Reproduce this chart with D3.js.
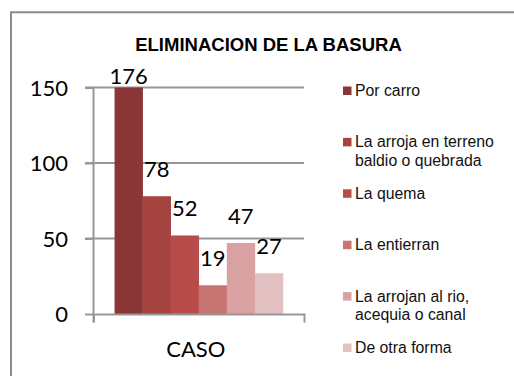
<!DOCTYPE html>
<html>
<head>
<meta charset="utf-8">
<script src="https://cdn.jsdelivr.net/npm/d3@7/dist/d3.min.js"></script>
<style>
  html, body { margin: 0; padding: 0; background: #fff; }
  svg { display: block; }
</style>
</head>
<body>
<svg id="chart" width="514" height="376"></svg>
<script>
// Waste disposal survey: one category, six disposal methods
const chartTitle = "ELIMINACION DE LA BASURA";
const categories = ["CASO"];
const seriesNames = [
  ["Por carro"],
  ["La arroja en terreno", "baldio o quebrada"],
  ["La quema"],
  ["La entierran"],
  ["La arrojan al rio,", "acequia o canal"],
  ["De otra forma"]
];
const seriesValues = [176, 78, 52, 19, 47, 27];
const seriesColors = ["#8b3636", "#a64442", "#b84c4a", "#c87472", "#d9a1a1", "#e3c1c2"];
const yTicks = [0, 50, 100, 150];
const yMax = 150;

const svg = d3.select("#chart");
const W = 514, H = 376;
const plot = { left: 93.5, right: 304, top: 87.5, bottom: 314 };
const gridColor = "#979797";
const numFont = "Lato, 'Open Sans', sans-serif";
const txtFont = "'Liberation Sans', Arial, sans-serif";

svg.append("rect").attr("width", W).attr("height", H).attr("fill", "#fff");

// outer chart frame (continues past the right and bottom edges)
svg.append("path")
  .attr("d", `M11,${H + 5}V12.3H${W + 5}`)
  .attr("fill", "none")
  .attr("stroke", "#8c8c8c")
  .attr("stroke-width", 2);

// title
svg.append("text")
  .attr("x", 268.5).attr("y", 50.5)
  .attr("text-anchor", "middle")
  .attr("font-family", txtFont)
  .attr("font-weight", "bold")
  .attr("font-size", 18.5)
  .attr("fill", "#000")
  .text(chartTitle);

// scales (values above the axis maximum are cut at the plot top)
const y = d3.scaleLinear().domain([0, yMax]).range([plot.bottom, plot.top]).clamp(true);
const x0 = d3.scaleBand().domain(categories).range([plot.left, plot.right])
  .paddingInner(0).paddingOuter(0.125);
const x1 = d3.scaleBand().domain(d3.range(seriesValues.length)).range([0, x0.bandwidth()]);

// horizontal gridlines
svg.append("g").selectAll("line")
  .data(yTicks.filter(t => t > 0))
  .join("line")
  .attr("x1", plot.left - 8.5).attr("x2", plot.right)
  .attr("y1", d => y(d)).attr("y2", d => y(d))
  .attr("stroke", gridColor).attr("stroke-width", 2);

// bars
const group = svg.append("g").attr("transform", `translate(${x0("CASO")},0)`);
group.selectAll("rect")
  .data(seriesValues)
  .join("rect")
  .attr("x", (d, i) => x1(i))
  .attr("width", x1.bandwidth() + 0.3)
  .attr("y", d => y(d))
  .attr("height", d => y(0) - y(d))
  .attr("fill", (d, i) => seriesColors[i]);

// value labels; a cut bar keeps its label just above the plot top
group.selectAll("text")
  .data(seriesValues)
  .join("text")
  .attr("x", (d, i) => x1(i) + x1.bandwidth() / 2)
  .attr("y", d => d > yMax ? y(d) - 4 : y(d) - 19.5)
  .attr("text-anchor", "middle")
  .attr("font-family", numFont)
  .attr("font-size", 22)
  .attr("fill", "#000")
  .text(d => d);

// y axis
const yAxis = svg.append("g")
  .attr("transform", `translate(${plot.left},0)`)
  .call(d3.axisLeft(y).tickValues(yTicks).tickSize(8.5).tickPadding(17));
yAxis.select(".domain").remove();
yAxis.selectAll(".tick line").attr("stroke", gridColor).attr("stroke-width", 2);
yAxis.selectAll(".tick text")
  .attr("font-family", numFont).attr("font-size", 22).attr("fill", "#000")
  .attr("dy", "0.36em");
svg.append("line")
  .attr("x1", plot.left).attr("x2", plot.left)
  .attr("y1", plot.top - 1).attr("y2", plot.bottom + 8.5)
  .attr("stroke", gridColor).attr("stroke-width", 2);

// x axis
const xAxis = svg.append("g")
  .attr("transform", `translate(0,${plot.bottom})`)
  .call(d3.axisBottom(x0).tickSizeInner(0).tickSizeOuter(8.5).tickPadding(0));
xAxis.select(".domain").attr("stroke", gridColor).attr("stroke-width", 2);
xAxis.selectAll(".tick line").remove();
xAxis.selectAll(".tick text")
  .attr("font-family", numFont).attr("font-size", 22).attr("fill", "#000")
  .attr("dy", 0).attr("y", 43).attr("dx", -3);

// legend
const legend = svg.append("g").attr("transform", "translate(343,0)");
const legendItems = legend.selectAll("g")
  .data(seriesNames)
  .join("g")
  .attr("transform", (d, i) => `translate(0,${96 + i * 51.4})`);
legendItems.append("rect")
  .attr("x", 0).attr("y", -9.5)
  .attr("width", 8.5).attr("height", 8.5)
  .attr("fill", (d, i) => seriesColors[i]);
legendItems.append("text")
  .attr("x", 12)
  .attr("font-family", txtFont)
  .attr("font-size", 15.8)
  .attr("fill", "#111")
  .selectAll("tspan")
  .data(d => d)
  .join("tspan")
  .attr("x", 12)
  .attr("y", (d, i) => i * 18.8)
  .text(d => d);
</script>
</body>
</html>
